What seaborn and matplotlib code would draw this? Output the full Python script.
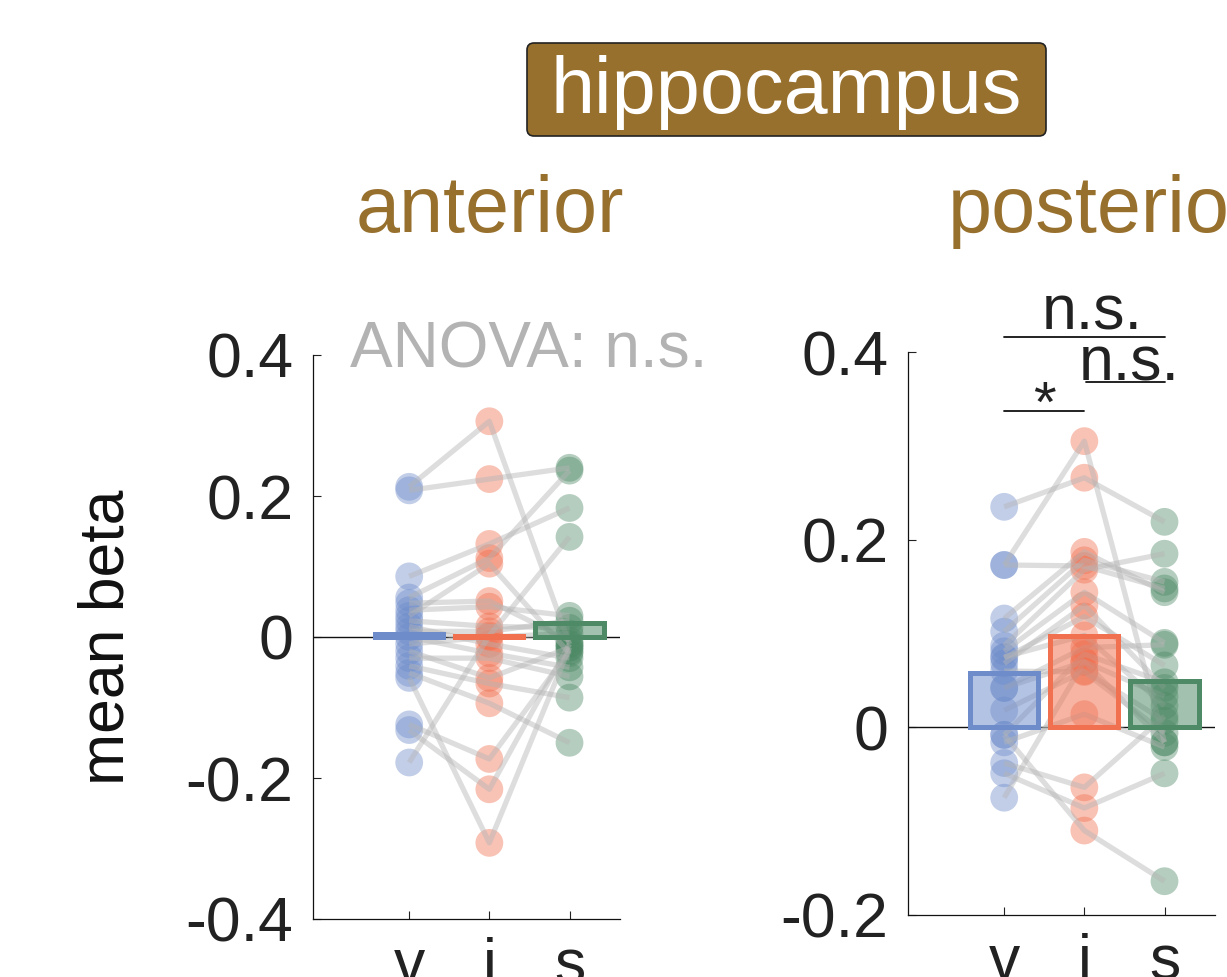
import numpy as np
import pandas as pd
import matplotlib
matplotlib.use("Agg")
import matplotlib.pyplot as plt
import seaborn as sns
from matplotlib.colors import to_rgba
from matplotlib.patches import FancyBboxPatch
from matplotlib.transforms import IdentityTransform

# condition labels and colours
conditions = ["v", "i", "s"]
palette = ["#6E8CCA", "#F07050", "#4E8A66"]
brown = "#98702D"

# anterior hippocampus: mean beta per subject
ant_v = [0.213, 0.208, 0.086, 0.056, 0.048, 0.038, 0.030, 0.023, 0.015, 0.008,
         0.000, -0.010, -0.020, -0.030, -0.041, -0.051, -0.058, -0.124, -0.132, -0.178]
ant_i = [0.306, 0.224, 0.132, 0.112, 0.051, 0.043, 0.104, 0.015, -0.010, 0.008,
         -0.023, 0.000, -0.058, -0.030, -0.066, -0.094, -0.292, -0.173, -0.216, 0.002]
ant_s = [-0.010, 0.240, 0.183, 0.236, -0.005, 0.030, -0.023, 0.013, -0.030, 0.023,
         -0.043, 0.005, -0.015, -0.056, -0.086, -0.150, -0.015, -0.020, -0.010, 0.142]

# posterior hippocampus: mean beta per subject
post_v = [0.235, 0.173, 0.173, 0.116, 0.102, 0.087, 0.081, 0.074, 0.068, 0.075,
          0.042, 0.042, 0.060, -0.008, -0.016, 0.018, -0.038, -0.049, -0.075, -0.008]
post_i = [0.266, 0.305, 0.172, 0.187, 0.178, 0.168, 0.144, 0.118, 0.130, 0.098,
          0.085, 0.070, 0.059, 0.078, 0.014, 0.060, -0.064, -0.086, 0.070, -0.110]
post_s = [0.219, -0.016, 0.148, 0.144, 0.155, 0.185, 0.090, 0.066, 0.042, 0.023,
          0.088, 0.033, -0.006, 0.048, -0.021, 0.007, 0.012, -0.049, -0.016, -0.164]

ant_yticks = [-0.4, -0.2, 0.0, 0.2, 0.4]
ant_ylabels = ["-0.4", "-0.2", "0", "0.2", "0.4"]
post_yticks = [-0.2, 0.0, 0.2, 0.4]
post_ylabels = ["-0.2", "0", "0.2", "0.4"]

sns.set_theme(style="ticks")
plt.rcParams["font.family"] = ["Liberation Sans", "DejaVu Sans"]
plt.rcParams["text.color"] = "#222222"
plt.rcParams["xtick.color"] = "#222222"
plt.rcParams["ytick.color"] = "#222222"

W, H = 1227, 977
fig = plt.figure(figsize=(W / 100, H / 100), dpi=100)


def long_frame(v, i, s):
    n = len(v)
    return pd.DataFrame({
        "subject": np.tile(np.arange(n), 3),
        "cond": np.repeat(conditions, n),
        "beta": np.concatenate([v, i, s]),
    })


def draw_panel(ax, v, i, s, ylim, yticks, ylabels):
    df = long_frame(v, i, s)
    ax.axhline(0, color="#111111", lw=1.0, zorder=1)
    sns.stripplot(data=df, x="cond", y="beta", hue="cond", order=conditions,
                  hue_order=conditions, palette=palette, jitter=False, size=20,
                  alpha=0.42, linewidth=0, legend=False, ax=ax, zorder=2)
    wide = df.pivot(index="subject", columns="cond", values="beta")[conditions]
    for _, row in wide.iterrows():
        ax.plot(range(len(conditions)), row.values, color="#b5b5b5", alpha=0.45,
                lw=3.8, zorder=3, solid_capstyle="butt")
    sns.barplot(data=df, x="cond", y="beta", hue="cond", order=conditions,
                hue_order=conditions, palette=palette, errorbar=None, width=0.85,
                legend=False, ax=ax, zorder=4)
    for patch, col in zip(ax.patches, palette):
        patch.set_facecolor(to_rgba(col, 0.52))
        patch.set_edgecolor(col)
        patch.set_linewidth(3.6)
        patch.set_zorder(4)
    ax.set_xlim(-1.2, 2.63)
    ax.set_ylim(*ylim)
    ax.set_yticks(yticks)
    ax.set_yticklabels(ylabels)
    ax.set_xticks(range(3))
    ax.set_xticklabels(conditions)
    ax.set_xlabel("")
    ax.set_ylabel("")
    ax.tick_params(direction="in", length=6, width=0.8, labelsize=45, pad=13)
    ax.tick_params(axis="y", pad=14)
    for sp in ("left", "bottom"):
        ax.spines[sp].set_linewidth(0.9)
        ax.spines[sp].set_color("#111111")
    sns.despine(ax=ax)


ax1 = fig.add_axes([313 / W, 58 / H, 307 / W, 564 / H])
ax2 = fig.add_axes([908 / W, 62 / H, 307 / W, 563 / H])
draw_panel(ax1, ant_v, ant_i, ant_s, (-0.4, 0.4), ant_yticks, ant_ylabels)
draw_panel(ax2, post_v, post_i, post_s, (-0.2, 0.4), post_yticks, post_ylabels)

# region header
box = FancyBboxPatch((527, H - 136), 519, 93,
                     boxstyle="round,pad=0,rounding_size=7",
                     transform=IdentityTransform(), facecolor=brown,
                     edgecolor="#222222", lw=1.2, zorder=1)
fig.add_artist(box)
fig.text(786 / W, 1 - 113 / H, "hippocampus", color="white", fontsize=57,
         ha="center", va="baseline", zorder=3)

fig.text(490 / W, 1 - 232 / H, "anterior", color=brown, fontsize=57,
         ha="center", va="baseline")
fig.text(948 / W, 1 - 232 / H, "posterior", color=brown, fontsize=57,
         ha="left", va="baseline")

fig.text(107 / W, 1 - 637 / H, "mean beta", fontsize=45, rotation=90,
         ha="center", va="center", color="#111111")

# statistics
fig.text(529 / W, 1 - 368 / H, "ANOVA: n.s.", color="#B3B3B3", fontsize=46,
         ha="center", va="baseline")

sig = dict(color="#111111", lw=1.3, clip_on=False, zorder=6)
ax2.plot([0, 2], [0.416, 0.416], **sig)
ax2.text(1.1, 0.4245, "n.s.", fontsize=45, ha="center", va="baseline", clip_on=False)
ax2.plot([1.02, 2.0], [0.368, 0.368], **sig)
ax2.text(1.56, 0.370, "n.s.", fontsize=45, ha="center", va="baseline", clip_on=False)
ax2.plot([0, 1], [0.337, 0.337], **sig)
ax2.text(0.5, 0.313, "*", fontsize=42, ha="center", va="bottom", clip_on=False)

fig.savefig("out.png", dpi=100)
